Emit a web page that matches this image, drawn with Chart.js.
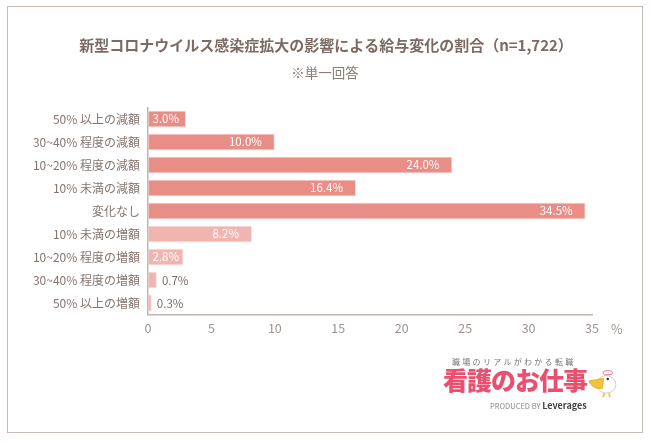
<!DOCTYPE html>
<html><head><meta charset="utf-8">
<script src="https://cdn.jsdelivr.net/npm/chart.js@4"></script>
<style>
html,body{margin:0;padding:0;background:#fff;}
#wrap{position:relative;width:650px;height:442px;}
#frame{position:absolute;left:7px;top:6px;width:636px;height:427px;border:1.5px solid #c9bab5;box-sizing:border-box;pointer-events:none;}
#logo{position:absolute;left:440px;top:355px;width:200px;height:60px;font-family:"Noto Sans CJK JP",sans-serif;}
#logo .s{position:absolute;left:12px;top:1px;font-size:8px;color:#777;letter-spacing:2.3px;white-space:nowrap;}
#logo .b{position:absolute;left:3px;top:9px;font-size:25px;font-weight:900;color:#e9506f;letter-spacing:-1px;white-space:nowrap;line-height:30px;}
#logo .p{position:absolute;left:50px;top:44px;font-size:7.5px;color:#888;white-space:nowrap;}
#logo .p b{font-size:9px;color:#444;}
#logo svg{position:absolute;left:146px;top:12px;}
</style></head>
<body><div id="wrap"><canvas id="c" width="650" height="442"></canvas><div id="frame"></div>
<div id="logo"><div class="s">職場のリアルがわかる転職</div><div class="b">看護のお仕事</div><div class="p">PRODUCED BY <b>Leverages</b></div>
<svg width="34" height="32" viewBox="0 0 50 46"><ellipse cx="30" cy="25" rx="14" ry="13" fill="#fff" stroke="#ccc" stroke-width="1.4"/><ellipse cx="32" cy="8" rx="7" ry="3" fill="#fff" stroke="#e9506f" stroke-width="1.2"/><path d="M4 20 L26 16 L24 31 Q10 33 4 20Z" fill="#f2c238" stroke="#d9a520" stroke-width="1"/><circle cx="32" cy="17" r="1.8" fill="#333"/><path d="M27 38 L25 44 M34 38 L35 44" stroke="#f2c238" stroke-width="2.5"/></svg></div>
</div>
<script>
const categories = ["50% 以上の減額","30~40% 程度の減額","10~20% 程度の減額","10% 未満の減額","変化なし","10% 未満の増額","10~20% 程度の増額","30~40% 程度の増額","50% 以上の増額"];
const values = [3.0, 10.0, 24.0, 16.4, 34.5, 8.2, 2.8, 0.7, 0.3];
const xTicks = [0,5,10,15,20,25,30,35];
const titleText = "新型コロナウイルス感染症拡大の影響による給与変化の割合（n=1,722）";
const subtitleText = "※単一回答";

const FONT = '"Noto Sans CJK JP", sans-serif';
const dark = '#e98e87', light = '#f1b5b1';
const colors = values.map((v,i)=> i<5 ? dark : light);

const textPlugin = {
  id:'txt',
  afterDraw(chart){
    const ctx = chart.ctx;
    ctx.save();
    ctx.textAlign = 'center';
    ctx.textBaseline = 'middle';
    ctx.fillStyle = '#7b6b64';
    ctx.font = 'bold 15px ' + FONT;
    ctx.fillText(titleText, 326, 45);
    ctx.fillStyle = '#8a7c76';
    ctx.font = '13.5px ' + FONT;
    ctx.fillText(subtitleText, 325, 73);
    ctx.restore();
  },
  afterDatasetsDraw(chart){
    const ctx = chart.ctx;
    const meta = chart.getDatasetMeta(0);
    ctx.save();
    ctx.font = '11.5px ' + FONT;
    ctx.textBaseline = 'middle';
    meta.data.forEach((bar,i)=>{
      const txt = values[i].toFixed(1) + '%';
      const w = ctx.measureText(txt).width;
      const x0 = bar.base, x1 = bar.x;
      ctx.textAlign = 'left';
      if (x1 - x0 >= w + 6) {
        let tx = x1 - 13 - w;
        if (tx < x0 + 4) tx = x0 + 4;
        ctx.fillStyle = '#fff';
        ctx.fillText(txt, tx, bar.y);
      } else {
        ctx.fillStyle = '#7a6c66';
        ctx.fillText(txt, x1 + 5, bar.y + 1);
      }
    });
    const xs = chart.scales.x;
    ctx.fillStyle = '#a0938e';
    ctx.font = '12.5px ' + FONT;
    ctx.fillText('%', xs.right + 19, xs.top + 15);
    ctx.restore();
  }
};

new Chart(document.getElementById('c'), {
  type:'bar',
  data:{labels:categories, datasets:[{data:values, backgroundColor:colors, borderColor:'#fbe2df', borderWidth:1, borderSkipped:'left', barPercentage:0.74, categoryPercentage:1}]},
  options:{
    indexAxis:'y', responsive:false, animation:false, devicePixelRatio:1,
    layout:{padding:{left:0, right:58, top:107.5, bottom:97.5}},
    plugins:{ legend:{display:false}, tooltip:{enabled:false}, title:{display:false} },
    scales:{
      x:{min:0, max:35, afterBuildTicks(s){s.ticks = xTicks.map(v=>({value:v}));},
         ticks:{color:'#a0938e', font:{family:FONT, size:12.5}, padding:6},
         grid:{display:true, drawOnChartArea:false, drawTicks:false},
         border:{color:'#c2b5b0', width:1.5},
         afterFit(s){s.height=30;}},
      y:{ticks:{color:'#85766f', font:{family:FONT, size:12}, padding:8, autoSkip:false},
         grid:{display:true, drawOnChartArea:false, drawTicks:false},
         border:{color:'#c2b5b0', width:1.5},
         afterFit(s){s.width=148;}}
    }
  },
  plugins:[textPlugin]
});
</script></body></html>
